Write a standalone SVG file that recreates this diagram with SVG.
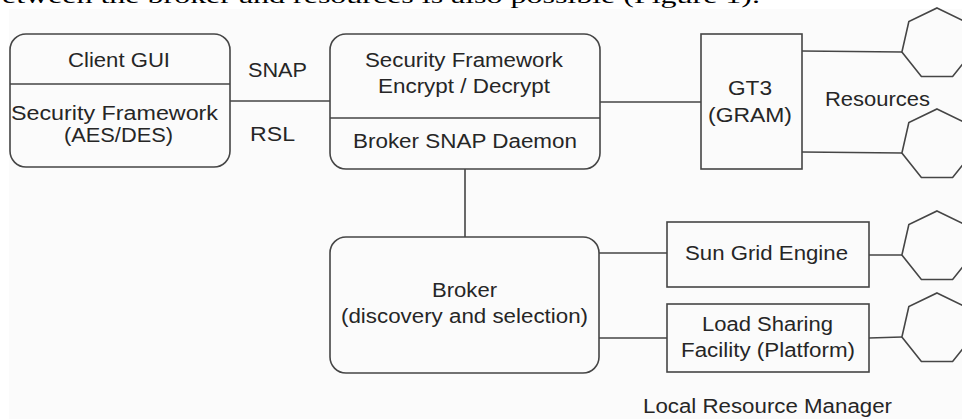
<svg xmlns="http://www.w3.org/2000/svg" xmlns:xlink="http://www.w3.org/1999/xlink" width="962" height="419" viewBox="0 0 962 419">
  <style>
    .box { fill: none; stroke: #454545; stroke-width: 1.6; }
    .wire { fill: none; stroke: #454545; stroke-width: 1.6; }
    .lbl { font-family: "Liberation Sans", Arial, sans-serif; font-size: 20px; fill: #262626; }
    .body { font-family: "Liberation Serif", "Times New Roman", serif; font-size: 22px; fill: #000; }
  </style>
  <defs>
    <!-- regular heptagon, vertex up, radius 36 -->
    <polygon id="hept" class="box" points="0,-36 28.15,-22.43 35.1,8.03 15.62,32.44 -15.62,32.44 -35.1,8.03 -28.15,-22.43"/>
  </defs>

  <rect x="0" y="0" width="962" height="419" fill="#ffffff"/>
  <rect x="9" y="9" width="953" height="410" fill="#fbfbfb"/>

  <text class="body" x="2" y="3" textLength="758" lengthAdjust="spacingAndGlyphs">etween the broker and resources is also possible (Figure 1).</text>

  <g id="connectors">
    <line class="wire" x1="230" y1="101" x2="330" y2="101"/>
    <line class="wire" x1="600" y1="102" x2="701" y2="102"/>
    <line class="wire" x1="465" y1="169" x2="465" y2="237"/>
    <line class="wire" x1="802" y1="51" x2="902" y2="52"/>
    <line class="wire" x1="802" y1="152" x2="902" y2="153"/>
    <line class="wire" x1="599" y1="253" x2="667" y2="253"/>
    <line class="wire" x1="599" y1="338" x2="667" y2="338"/>
    <line class="wire" x1="869" y1="255" x2="902" y2="255"/>
    <line class="wire" x1="869" y1="338" x2="902" y2="337"/>
  </g>

  <g id="link-labels">
    <text class="lbl" x="248" y="77" textLength="59" lengthAdjust="spacingAndGlyphs">SNAP</text>
    <text class="lbl" x="250" y="141" textLength="45" lengthAdjust="spacingAndGlyphs">RSL</text>
  </g>

  <g id="client">
    <rect class="box" x="10" y="34" width="220" height="133" rx="16"/>
    <line class="wire" x1="10" y1="84" x2="230" y2="84"/>
    <text class="lbl" x="68" y="67" textLength="102" lengthAdjust="spacingAndGlyphs">Client GUI</text>
    <text class="lbl" x="11" y="120" textLength="207" lengthAdjust="spacingAndGlyphs">Security Framework</text>
    <text class="lbl" x="64" y="142" textLength="109" lengthAdjust="spacingAndGlyphs">(AES/DES)</text>
  </g>

  <g id="daemon">
    <rect class="box" x="330" y="34" width="270" height="135" rx="16"/>
    <line class="wire" x1="330" y1="118" x2="600" y2="118"/>
    <text class="lbl" x="365" y="67" textLength="198" lengthAdjust="spacingAndGlyphs">Security Framework</text>
    <text class="lbl" x="378" y="93" textLength="172" lengthAdjust="spacingAndGlyphs">Encrypt / Decrypt</text>
    <text class="lbl" x="353" y="148" textLength="224" lengthAdjust="spacingAndGlyphs">Broker SNAP Daemon</text>
  </g>

  <g id="gt3">
    <rect class="box" x="701" y="34" width="101" height="135"/>
    <text class="lbl" x="728" y="95" textLength="44" lengthAdjust="spacingAndGlyphs">GT3</text>
    <text class="lbl" x="708" y="122" textLength="84" lengthAdjust="spacingAndGlyphs">(GRAM)</text>
  </g>

  <g id="resources-label">
    <text class="lbl" x="825" y="106" textLength="105" lengthAdjust="spacingAndGlyphs">Resources</text>
  </g>

  <g id="broker">
    <rect class="box" x="330" y="237" width="269" height="136" rx="16"/>
    <text class="lbl" x="432" y="297" textLength="65" lengthAdjust="spacingAndGlyphs">Broker</text>
    <text class="lbl" x="341" y="323" textLength="247" lengthAdjust="spacingAndGlyphs">(discovery and selection)</text>
  </g>

  <g id="sge">
    <rect class="box" x="667" y="222" width="202" height="65"/>
    <text class="lbl" x="685" y="260" textLength="163" lengthAdjust="spacingAndGlyphs">Sun Grid Engine</text>
  </g>

  <g id="lsf">
    <rect class="box" x="667" y="304" width="202" height="68"/>
    <text class="lbl" x="702" y="331" textLength="131" lengthAdjust="spacingAndGlyphs">Load Sharing</text>
    <text class="lbl" x="681" y="357" textLength="174" lengthAdjust="spacingAndGlyphs">Facility (Platform)</text>
  </g>

  <g id="lrm-label">
    <text class="lbl" x="643" y="413" textLength="249" lengthAdjust="spacingAndGlyphs">Local Resource Manager</text>
  </g>

  <g id="resource-1"><use xlink:href="#hept" x="937" y="44"/></g>
  <g id="resource-2"><use xlink:href="#hept" x="937" y="145"/></g>
  <g id="resource-3"><use xlink:href="#hept" x="937" y="247"/></g>
  <g id="resource-4"><use xlink:href="#hept" x="937" y="329"/></g>
</svg>
